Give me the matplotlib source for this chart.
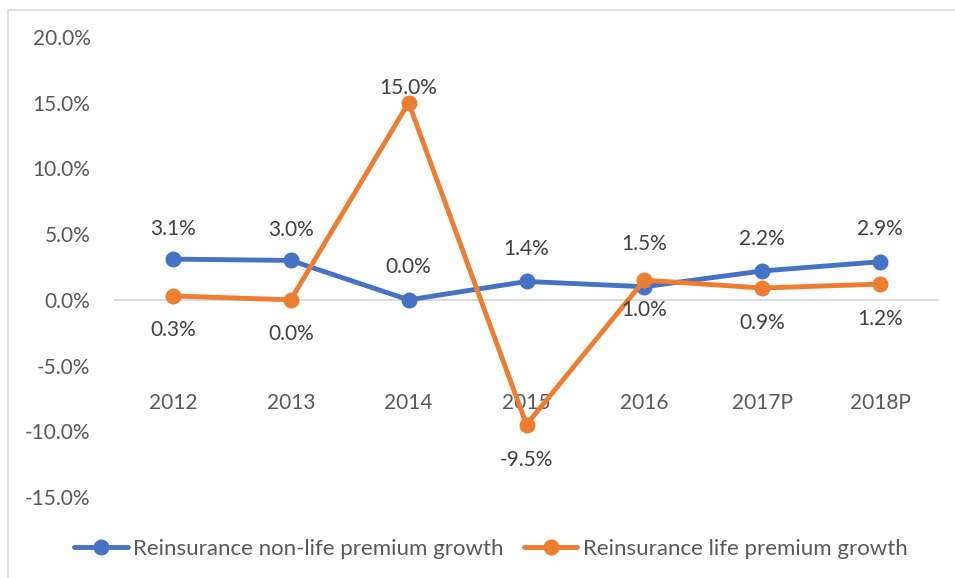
import matplotlib
matplotlib.use("Agg")
import matplotlib.pyplot as plt
from matplotlib.patches import Rectangle
from matplotlib.lines import Line2D

categories = ["2012", "2013", "2014", "2015", "2016", "2017P", "2018P"]
nonlife = [3.1, 3.0, 0.0, 1.4, 1.0, 2.2, 2.9]
life = [0.3, 0.0, 15.0, -9.5, 1.5, 0.9, 1.2]
yticks = [-15, -10, -5, 0, 5, 10, 15, 20]
series_names = ["Reinsurance non-life premium growth", "Reinsurance life premium growth"]

# label offsets in pixels (positive = above the point)
nonlife_off = [30, 30, 33, 32, -23, 32, 33]
life_off = [-34, -34, 15, -35, 36, -35, -35]

BLUE = "#4472C4"
ORANGE = "#ED7D31"
FONT = ["Lato", "DejaVu Sans"]
plt.rcParams["font.family"] = FONT
FS = 15
LW = 3.5
MS = 10.5

W, H = 955, 578
fig = plt.figure(figsize=(W / 100, H / 100), dpi=100)
fig.patches.append(Rectangle((8 / W, -0.1), 1.2, 1 - 10 / H + 0.1, transform=fig.transFigure,
                             fill=False, edgecolor="#d9d9d9", linewidth=1.2))

ax = fig.add_axes([114 / W, 1 - 497 / H, (939 - 114) / W, (497 - 37) / H])
x = list(range(len(categories)))
ax.set_xlim(-0.5, len(categories) - 0.5)
ax.set_ylim(-15, 20)
for s in ax.spines.values():
    s.set_visible(False)
ax.axhline(0, color="#d9d9d9", linewidth=1.3, zorder=1)
ax.set_yticks(yticks)
ax.set_yticklabels([f"{v:.1f}%" for v in yticks])
ax.tick_params(axis="y", length=0, pad=17, labelsize=FS, labelcolor="#595959")
ax.set_xticks([])

ax.plot(x, nonlife, color=BLUE, linewidth=LW, marker="o", markersize=MS, zorder=3,
        solid_capstyle="round")
ax.plot(x, life, color=ORANGE, linewidth=LW, marker="o", markersize=MS, zorder=4,
        solid_capstyle="round")

for xi, c in zip(x, categories):
    ax.text(xi, -7.85, c, ha="center", va="center", fontsize=FS, color="#595959")

for vals, offs in ((nonlife, nonlife_off), (life, life_off)):
    for xi, v, o in zip(x, vals, offs):
        ax.annotate(f"{v:.1f}%", (xi, v), xytext=(0, o * 0.72), textcoords="offset points",
                    ha="center", va="center", fontsize=FS, color="#404040", zorder=5)

handles = [Line2D([0], [0], color=BLUE, linewidth=LW, marker="o", markersize=MS,
                  solid_capstyle="round"),
           Line2D([0], [0], color=ORANGE, linewidth=LW, marker="o", markersize=MS,
                  solid_capstyle="round")]
fig.legend(handles, series_names, loc="center", bbox_to_anchor=(491 / W, 1 - 549 / H),
           ncol=2, frameon=False, fontsize=16, labelcolor="#595959",
           handlelength=2.4, handletextpad=0.25, columnspacing=0.9)

fig.savefig("out.png", dpi=100)
